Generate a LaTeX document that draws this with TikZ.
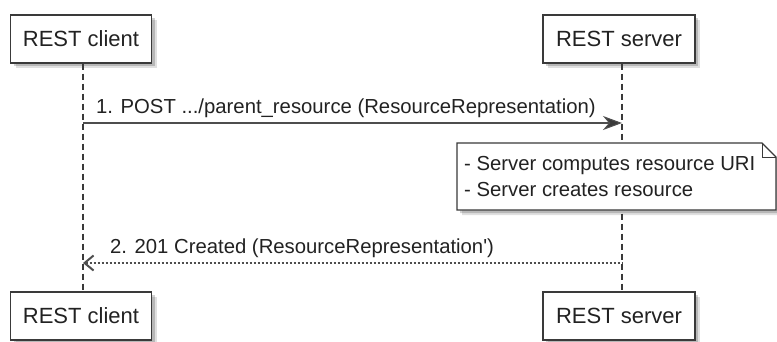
\documentclass[tikz,border=0pt]{standalone}
\usepackage{fontspec}
\setmainfont{Liberation Sans}
\usetikzlibrary{arrows.meta,shadows}
\definecolor{edge}{HTML}{3A3A3A}
\definecolor{ink}{HTML}{222222}
\tikzset{
  softshadow/.style={
    general shadow={shadow xshift=3pt, shadow yshift=-3pt, fill=black, opacity=0.18},
    general shadow={shadow xshift=5pt, shadow yshift=-5pt, fill=black, opacity=0.12}},
  actorbox/.style={draw=edge, line width=1.4pt, fill=white, text=ink,
    minimum height=48pt, inner sep=0pt, font=\fontsize{22}{25}\selectfont, softshadow},
  lifeline/.style={draw=edge, line width=1.1pt, dash pattern=on 6pt off 4pt},
  msglabel/.style={text=ink, font=\fontsize{20.3}{23}\selectfont, inner sep=0pt},
  syncmsg/.style={draw=edge!90, line width=1.1pt,
    -{Stealth[length=19pt, width=14pt, inset=6pt, fill=edge]}},
  replymsg/.style={draw=edge!90, line width=1.1pt, dash pattern=on 2pt off 2pt,
    {Straight Barb[length=9pt, width=15pt, line width=2pt]}-},
}
\begin{document}
\begin{tikzpicture}[x=1pt, y=-1pt]
\useasboundingbox[fill=white] (0,0) rectangle (777,341);

% participants, top and bottom
\node[actorbox, minimum width=141pt] (ct) at (81,39) {REST client};
\node[actorbox, minimum width=152pt] (st) at (619,39) {REST server};
\node[actorbox, minimum width=141pt] (cb) at (81,316) {REST client};
\node[actorbox, minimum width=152pt] (sb) at (619,316) {REST server};

% lifelines
\draw[lifeline] ([xshift=2pt]ct.south) -- ([xshift=2pt]cb.north);
\draw[lifeline] ([xshift=3pt]st.south) -- ([xshift=3pt]sb.north);

% message end points on the lifelines
\coordinate (c1) at (83,123);
\coordinate (s1) at (622,123);
\coordinate (c2) at (83,263);
\coordinate (s2) at (622,263);

% 1. request
\draw[syncmsg] (c1) -- (s1);
\node[msglabel, anchor=base west] (m1) at (96,113.5) {1. POST .../parent\_resource (ResourceRepresentation)};

% note with folded corner
\path[softshadow, fill=white] (457,143) -- (762,143) -- (776,157) -- (776,210) -- (457,210) -- cycle;
\draw[draw=edge, line width=1.4pt, fill=white, line join=miter]
  (457,143) -- (762,143) -- (776,157) -- (776,210) -- (457,210) -- cycle;
\draw[draw=edge, line width=1pt] (762,143) -- (762,157) -- (776,157);
\node[msglabel, anchor=west, align=left] (nt) at (464,177)
  {- Server computes resource URI\\[3pt]- Server creates resource};

% 2. response
\draw[replymsg] (c2) -- (s2);
\node[msglabel, anchor=base west] (m2) at (110,253.5) {2. 201 Created (ResourceRepresentation\textquotesingle)};
\end{tikzpicture}
\end{document}
